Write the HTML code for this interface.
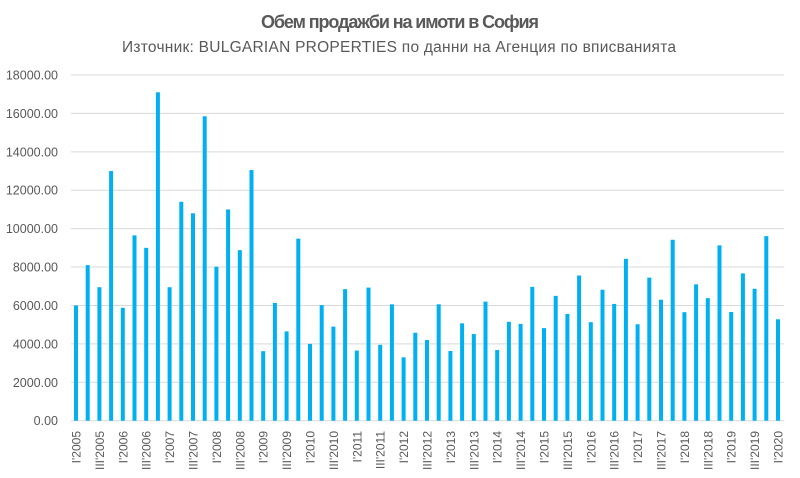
<!DOCTYPE html>
<html><head><meta charset="utf-8"><style>
html,body{margin:0;padding:0;background:#fff;}
svg{display:block;font-family:"Liberation Sans","DejaVu Sans",sans-serif;}
</style></head><body>
<svg id="c" width="800" height="478" xmlns="http://www.w3.org/2000/svg">
<rect width="800" height="478" fill="#fff"/>
<text x="400" y="28" text-anchor="middle" font-size="18" font-weight="bold" fill="#595959" textLength="278">Обем продажби на имоти в София</text>
<text x="399" y="52" text-anchor="middle" font-size="15.5" fill="#595959" textLength="554">Източник: BULGARIAN PROPERTIES по данни на Агенция по вписванията</text>
<g id="g"></g>
</svg>
<script>
var v=[6000,8100,6950,13000,5880,9650,9000,17100,6950,11400,10800,15850,8020,11000,8880,13050,3620,6130,4650,9480,4000,6020,4900,6850,3650,6930,3950,6060,3300,4580,4200,6060,3630,5070,4510,6200,3680,5150,5040,6970,4820,6500,5560,7560,5130,6820,6080,8430,5020,7450,6300,9420,5650,7100,6380,9130,5660,7670,6870,9610,5280];
var y0=420.7,k=(420.7-75)/18000,s='';
for(var i=0;i<=9;i++){var y=y0-i*2000*k;
s+='<line x1="71" x2="784" y1="'+y+'" y2="'+y+'" stroke="#d9d9d9" stroke-width="1"/>';
s+='<text x="58" y="'+(y+4.5)+'" text-anchor="end" font-size="12.5" fill="#595959">'+(i*2000)+'.00</text>';}
for(var i=0;i<v.length;i++){var x=76+i*11.7,h=v[i]*k;
s+='<rect x="'+(x-2)+'" y="'+(y0-h)+'" width="4" height="'+h+'" fill="#00b0f0"/>';
if(i%2==0){var yr=2005+Math.floor(i/4);var q=(i%4==0)?"I'":"III'";
s+='<text transform="translate('+(x+4.5)+',431) rotate(-90)" text-anchor="end" font-size="12" fill="#595959">'+q+yr+'</text>';}}
document.getElementById('g').innerHTML=s;
</script>
</body></html>
